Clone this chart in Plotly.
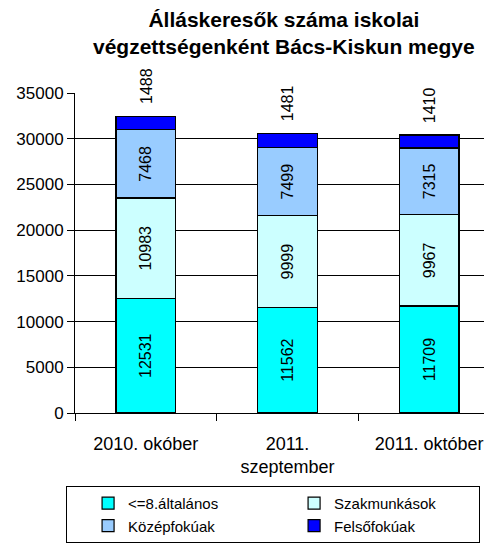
import plotly.graph_objects as go

categories = ["2010. okóber", "2011.<br>szeptember", "2011. október"]
series_names = ["<=8.általános", "Szakmunkások", "Középfokúak", "Felsőfokúak"]
alt = [12531, 11562, 11709]
szak = [10983, 9999, 9967]
kozep = [7468, 7499, 7315]
felso = [1488, 1481, 1410]
colors = ["#00FFFF", "#CCFFFF", "#99CCFF", "#0000FF"]
yticks = [0, 5000, 10000, 15000, 20000, 25000, 30000, 35000]
title_text = "<b>Álláskeresők száma iskolai<br>végzettségenként Bács-Kiskun megye</b>"

FONT = "Liberation Sans, Arial, sans-serif"

fig = go.Figure()
for name, vals, col, show_text in zip(series_names, [alt, szak, kozep, felso], colors,
                                       [True, True, True, False]):
    fig.add_trace(go.Bar(
        x=categories, y=vals, name=name,
        marker=dict(color=col, line=dict(color="#000000", width=1.2)),
        text=[str(v) for v in vals] if show_text else None,
        textposition="inside" if show_text else "none",
        insidetextanchor="middle",
        textangle=-90,
        textfont=dict(family=FONT, size=16, color="#000000"),
        hoverinfo="skip",
    ))

totals = [a + b + c + d for a, b, c, d in zip(alt, szak, kozep, felso)]
for cat, tot, v in zip(categories, totals, felso):
    fig.add_annotation(
        x=cat, y=tot, text=str(v), textangle=-90, showarrow=False,
        yanchor="bottom", yshift=10, bgcolor="#FFFFFF",
        font=dict(family=FONT, size=16, color="#000000"),
    )

fig.add_annotation(
    text=title_text, xref="paper", yref="paper", x=0.492, y=1.186,
    xanchor="center", yanchor="middle", showarrow=False,
    font=dict(family=FONT, size=21, color="#000000"),
)

fig.update_layout(
    width=492, height=549,
    margin=dict(l=67, r=0, t=85, b=144),
    paper_bgcolor="#FFFFFF", plot_bgcolor="#FFFFFF",
    barmode="stack", bargap=0.58,
    showlegend=True,
    xaxis=dict(
        range=[-0.5, 2.5], showgrid=False, showline=True, linecolor="#000000",
        ticks="outside", tickson="boundaries", ticklen=7, tickcolor="#000000",
        tickfont=dict(family=FONT, size=18, color="#000000"), automargin=False,
        ticklabelstandoff=14, fixedrange=True,
    ),
    yaxis=dict(
        range=[0, 35000], tickvals=yticks, tickformat="d", showgrid=True,
        gridcolor="#000000", gridwidth=1, showline=True, linecolor="#000000",
        ticks="outside", ticklen=7, tickcolor="#000000", zeroline=False,
        tickfont=dict(family=FONT, size=17, color="#000000"), automargin=False,
    ),
    legend=dict(
        orientation="h", x=-0.021, y=-0.228, xanchor="left", yanchor="top",
        bordercolor="#000000", borderwidth=1, bgcolor="#FFFFFF",
        entrywidth=140, indentation=21, traceorder="normal",
        font=dict(family=FONT, size=15, color="#000000"),
    ),
)

fig.write_html("out.html")
